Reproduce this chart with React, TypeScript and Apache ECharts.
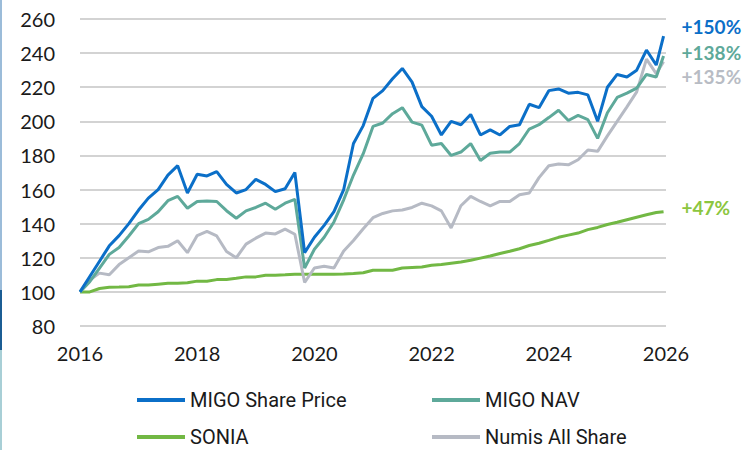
import React, { useEffect, useRef } from "react";
import * as echarts from "echarts";

const months = [0,2,4,6,8,10,12,14,16,18,20,22,24,26,28,30,32,34,36,38,40,42,44,46,48,50,52,54,56,58,60,62,64,66,68,70,72,74,76,78,80,82,84,86,88,90,92,94,96,98,100,102,104,106,108,110,112,114,116,118,119.5];

const sharePrice = [100,109,118,127,133,140,148,155,160,168.5,174,158,169,168,170.5,163,158,160,166,163,158.8,160.5,170,123,132,139,147,160,187,197.5,213.5,218,225,231,223,208.6,203,192,200,198,204,192,195,192,197,198,210,208,218,219,216.5,217,215.5,200,220,227.5,226,230,241.8,233,250];

const nav = [100,106,114,122,126,132.8,140,142.5,147,153.5,156,149,153,153.3,153,147.6,143.2,147.5,149.5,152,148.5,152,154.3,114,125,132,141,154,168.5,181,197,199,204.5,208,199.5,197.8,186,187,180,182,187,177,181.3,182,182,187,195.5,198,202.2,206.5,200.5,203.5,201,190,205,214,216.5,219.5,227.5,226,238.3];

const sonia = [100,100,102,102.7,102.8,103,104,104,104.5,105,105,105.3,106.3,106.3,107.2,107.3,108,108.8,108.8,109.8,109.8,110,110.3,110.4,110.4,110.4,110.4,110.5,110.8,111.2,112.7,112.7,112.7,114,114.3,114.6,115.6,116,116.8,117.5,118.5,119.8,121,122.5,123.8,125.3,127.2,128.5,130.2,132,133.3,134.5,136.5,137.8,139.5,140.8,142.3,143.8,145.2,146.5,147];

const numis = [100,107,111,110,116,120,124,123.5,126,126.7,130,123,133,135.5,132.8,123.7,120,128,131.5,134.5,134,136.8,133.8,105.5,114,115,114,124,130.1,137,143.5,146,147.5,148,149.5,152,150.4,147.5,137.5,150.5,156,153,150.5,153,153,157,158,167,174,175,174.5,177.5,183.2,182.4,191.5,200,208.5,217.3,236.5,228,235];

const seriesNames = ["MIGO Share Price", "MIGO NAV", "SONIA", "Numis All Share"];
const endLabels = ["+150%", "+138%", "+47%", "+135%"];
const yTicks = { min: 80, max: 260, interval: 20 };
const xYears = { start: 2016, end: 2026, stepYears: 2 };

const COLORS = ["#0b6fc8", "#5ea99a", "#72b844", "#b6bac4"];
const LABEL_COLORS = ["#0b6fc8", "#5ea99a", "#8cc63f", "#b8bcc4"];

export default function App() {
  const ref = useRef<HTMLDivElement>(null);
  useEffect(() => {
    if (!ref.current) return;
    const chart = echarts.init(ref.current, undefined, { renderer: "svg" });
    const valuesList = [sharePrice, nav, sonia, numis];
    const labelOffsets = [[10, -10], [10, -4], [10, -4], [10, 15]];
    const zs = [5, 4, 2, 3];
    const series = seriesNames.map((name, i) => ({
      name,
      type: "line",
      data: months.map((m, k) => [m, valuesList[i][k]]),
      showSymbol: false,
      symbol: "none",
      z: zs[i],
      lineStyle: { color: COLORS[i], width: 3 },
      itemStyle: { color: COLORS[i] },
      endLabel: {
        show: true,
        formatter: endLabels[i],
        color: LABEL_COLORS[i],
        fontFamily: "Lato",
        fontWeight: "bold",
        fontSize: 19,
        offset: labelOffsets[i],
      },
    }));
    const legendPos = [
      { left: 132, top: 385 },
      { left: 427, top: 385 },
      { left: 132, top: 422 },
      { left: 427, top: 422 },
    ];
    chart.setOption({
      animation: false,
      backgroundColor: "#ffffff",
      grid: { left: 80, right: 84, top: 19, bottom: 124, containLabel: false },
      xAxis: {
        type: "value",
        min: 0,
        max: (xYears.end - xYears.start) * 12,
        interval: xYears.stepYears * 12,
        axisLine: { show: false },
        axisTick: { show: false },
        splitLine: { show: false },
        axisLabel: {
          formatter: (v: number) => String(xYears.start + v / 12),
          color: "#1a1a1a",
          fontFamily: "Lato",
          fontSize: 20,
          margin: 17,
        },
      },
      yAxis: {
        type: "value",
        min: yTicks.min,
        max: yTicks.max,
        interval: yTicks.interval,
        axisLine: { show: false },
        axisTick: { show: false },
        splitLine: { lineStyle: { color: "#c4c4c4", width: 1.5 } },
        axisLabel: {
          color: "#1a1a1a",
          fontFamily: "Lato",
          fontSize: 20,
          margin: 25,
        },
      },
      legend: seriesNames.map((n, i) => ({
        data: [n],
        left: legendPos[i].left,
        top: legendPos[i].top,
        icon: "rect",
        itemWidth: 48,
        itemHeight: 4,
        itemGap: 0,
        selectedMode: false,
        textStyle: {
          fontFamily: "Roboto, sans-serif",
          fontSize: 20,
          color: "#1a1a1a",
        },
      })),
      graphic: [
        { type: "rect", left: 0, top: 0, shape: { width: 2, height: 290 }, style: { fill: "#9bbcd9" } },
        { type: "rect", left: 0, top: 290, shape: { width: 2, height: 60 }, style: { fill: "#1b5d94" } },
        { type: "rect", left: 0, top: 350, shape: { width: 2, height: 100 }, style: { fill: "#a8cfd6" } },
      ],
      series,
    });
    return () => chart.dispose();
  }, []);
  return (
    <div
      ref={ref}
      style={{ position: "absolute", left: 0, top: 0, width: 750, height: 450, background: "#fff" }}
    />
  );
}
